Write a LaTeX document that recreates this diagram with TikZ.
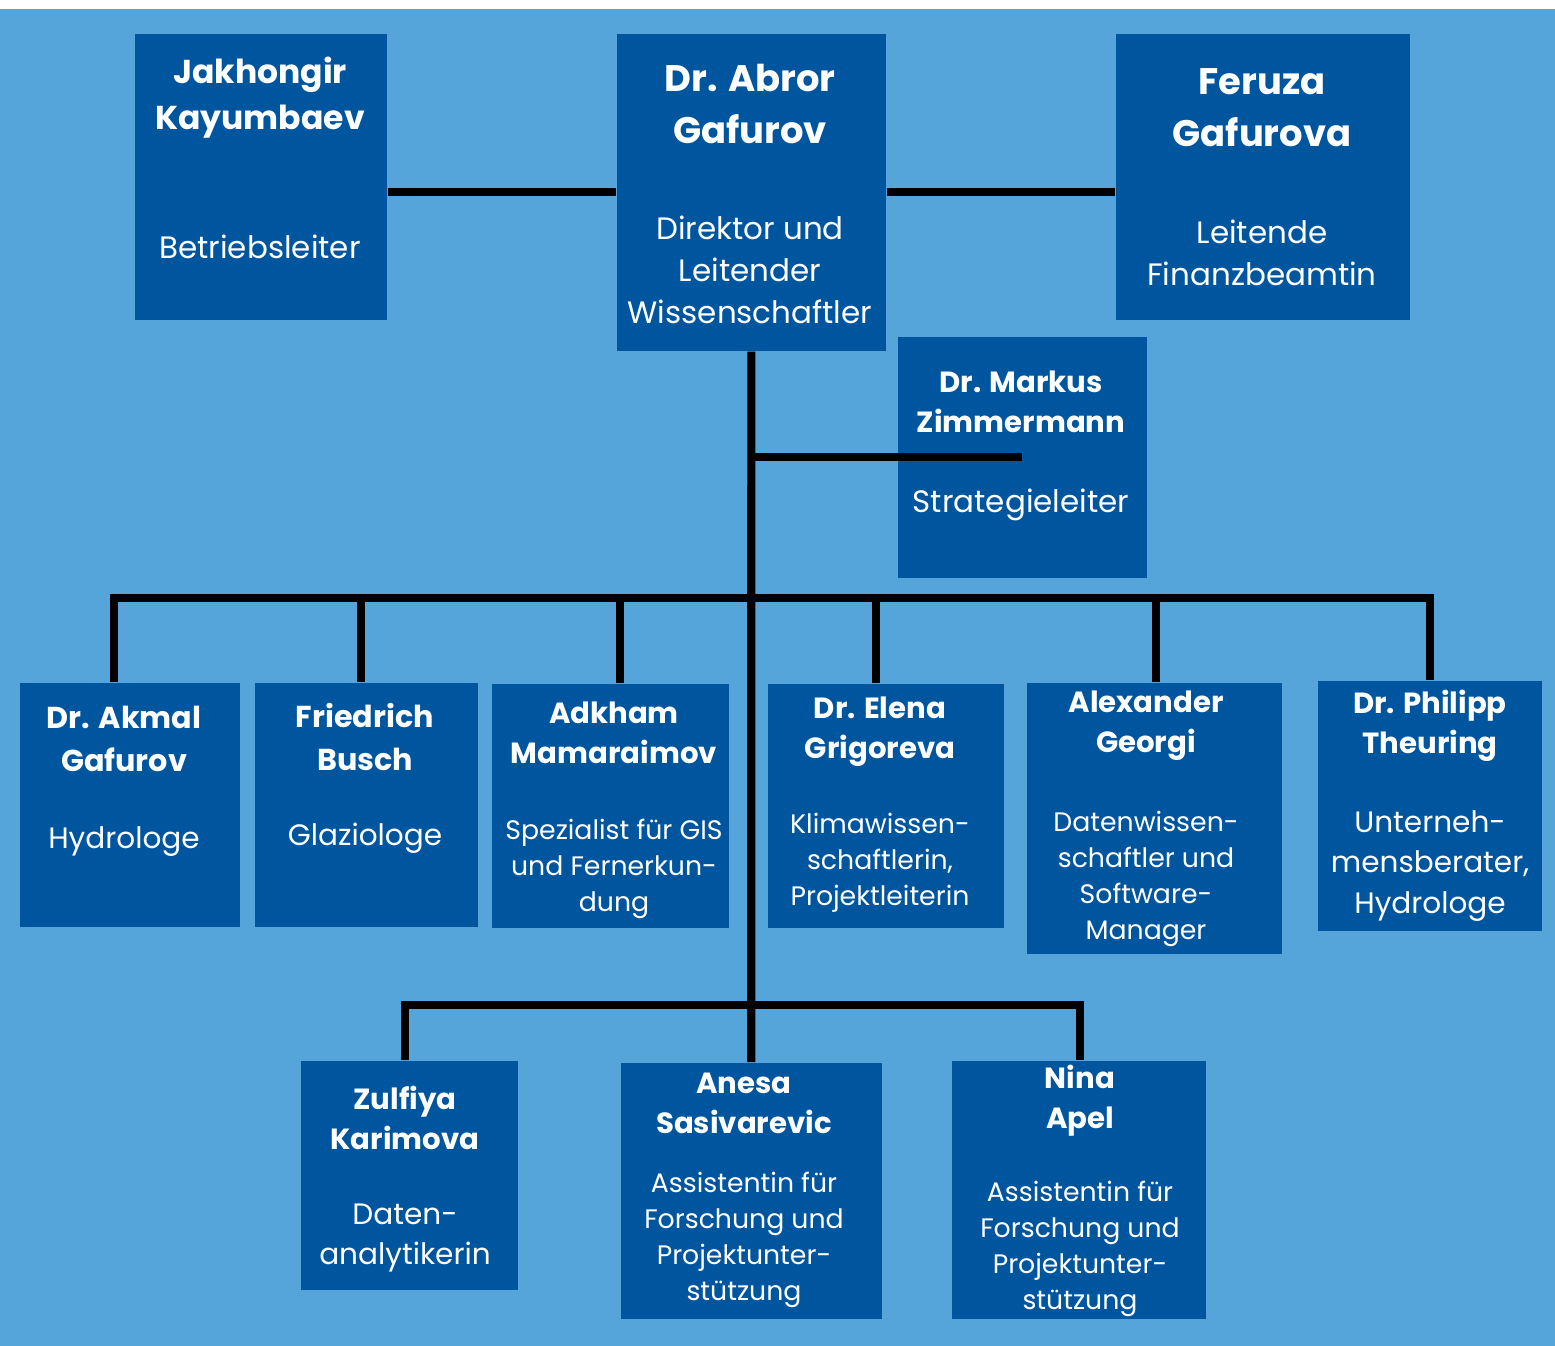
\documentclass[tikz,border=0pt]{standalone}
\usepackage{fontspec}
\setmainfont{Poppins}
\definecolor{bgblue}{HTML}{55A5DB}
\definecolor{boxblue}{HTML}{00559F}

\begin{document}
\begin{tikzpicture}[x=0.01cm,y=-0.01cm,
  box/.style={fill=boxblue, inner sep=0pt, anchor=north west},
  link/.style={line width=2.3pt},
  txt/.style={text=white, align=center, inner sep=0pt},
  nameXL/.style={txt, font=\bfseries\fontsize{10.5}{14.8}\selectfont},
  nameL/.style={txt, font=\bfseries\fontsize{9.4}{13.1}\selectfont},
  nameM/.style={txt, font=\bfseries\fontsize{8.6}{12.3}\selectfont},
  nameS/.style={txt, font=\bfseries\fontsize{8.3}{11.4}\selectfont},
  roleL/.style={txt, font=\fontsize{8.8}{12}\selectfont},
  roleM/.style={txt, font=\fontsize{8.4}{11.4}\selectfont},
  roleS/.style={txt, font=\fontsize{7.6}{10.2}\selectfont}]
\useasboundingbox (0,0) rectangle (1555,1346);
\fill[white] (0,0) rectangle (1555,1346);
\fill[bgblue] (0,9) rectangle (1555,1346);

% top row
\node[box, minimum width=2.52cm, minimum height=2.86cm] (jak) at (134,33) {};
\node[box, minimum width=2.69cm, minimum height=3.17cm] (abr) at (616,33) {};
\node[box, minimum width=2.94cm, minimum height=2.86cm] (fer) at (1115,33) {};
\node[box, minimum width=2.49cm, minimum height=2.41cm] (mar) at (897,336) {};

\node[nameL] (jak-n) at (260,98) {Jakhongir\\Kayumbaev};
\node[roleL] (jak-r) at (260,247) {Betriebsleiter};
\node[nameXL] (abr-n) at (750,104) {Dr. Abror\\Gafurov};
\node[roleL] (abr-r) at (750,270) {Direktor und\\Leitender\\Wissenschaftler};
\node[nameXL] (fer-n) at (1262,108) {Feruza\\Gafurova};
\node[roleL] (fer-r) at (1262,253) {Leitende\\Finanzbeamtin};
\node[nameS] (mar-n) at (1021,402) {Dr. Markus\\Zimmermann};
\node[roleL] (mar-r) at (1021,505) {Strategieleiter};

% middle row
\node[box, minimum width=2.20cm, minimum height=2.44cm] (akm) at (19,682) {};
\node[box, minimum width=2.23cm, minimum height=2.44cm] (fri) at (254,682) {};
\node[box, minimum width=2.37cm, minimum height=2.44cm] (adk) at (491,683) {};
\node[box, minimum width=2.36cm, minimum height=2.44cm] (ele) at (767,683) {};
\node[box, minimum width=2.55cm, minimum height=2.71cm] (ale) at (1026,682) {};
\node[box, minimum width=2.24cm, minimum height=2.50cm] (phi) at (1317,680) {};

\node[nameM] (akm-n) at (124,739) {Dr. Akmal\\Gafurov};
\node[roleM] (akm-r) at (124,842) {Hydrologe};
\node[nameM] (fri-n) at (365,737) {Friedrich\\Busch};
\node[roleM] (fri-r) at (365,838) {Glaziologe};
\node[nameS] (adk-n) at (614,733) {Adkham\\Mamaraimov};
\node[roleS] (adk-r) at (614,869) {Spezialist für GIS\\und Fernerkun-\\dung};
\node[nameS] (ele-n) at (880,732) {Dr. Elena\\Grigoreva};
\node[roleS] (ele-r) at (880,863) {Klimawissen-\\schaftlerin,\\Projektleiterin};
\node[nameS] (ale-n) at (1146,726) {Alexander\\Georgi};
\node[roleS] (ale-r) at (1146,879) {Datenwissen-\\schaftler und\\Software-\\Manager};
\node[nameS] (phi-n) at (1430,726) {Dr. Philipp\\Theuring};
\node[roleM] (phi-r) at (1430,866) {Unterneh-\\mensberater,\\Hydrologe};

% bottom row
\node[box, minimum width=2.17cm, minimum height=2.29cm] (zul) at (300,1060) {};
\node[box, minimum width=2.61cm, minimum height=2.56cm] (ane) at (620,1062) {};
\node[box, minimum width=2.54cm, minimum height=2.58cm] (nin) at (951,1060) {};

\node[nameS] (zul-n) at (405,1118) {Zulfiya\\Karimova};
\node[roleM] (zul-r) at (405,1238) {Daten-\\analytikerin};
\node[nameS] (ane-n) at (744,1103) {Anesa\\Sasivarevic};
\node[roleS] (ane-r) at (744,1240) {Assistentin für\\Forschung und\\Projektunter-\\stützung};
\node[nameS] (nin-n) at (1080,1101) {Nina\\Apel};
\node[roleS] (nin-r) at (1080,1249) {Assistentin für\\Forschung und\\Projektunter-\\stützung};

% connectors
\draw[link] (abr.west -| jak.east) -- (abr.west);
\draw[link] (abr.east) -- (abr.east -| fer.west);
\draw[link] (abr.south) -- (ane.north);
\draw[link] (abr.south |- mar.center) -- (mar.center);

\coordinate (b1) at (114,598);
\coordinate (b2) at (361,598);
\coordinate (b3) at (620,598);
\coordinate (b4) at (876,598);
\coordinate (b5) at (1156,598);
\coordinate (b6) at (1430,598);
\draw[link] (b1 |- akm.north) -- (b1) -- (b6) -- (b6 |- phi.north);
\foreach \c/\b in {b2/fri,b3/adk,b4/ele,b5/ale}
  \draw[link] (\c) -- (\c |- \b.north);

\coordinate (c1) at (405,1005);
\coordinate (c3) at (1080,1005);
\draw[link] (c1 |- zul.north) -- (c1) -- (c3) -- (c3 |- nin.north);
\end{tikzpicture}
\end{document}
